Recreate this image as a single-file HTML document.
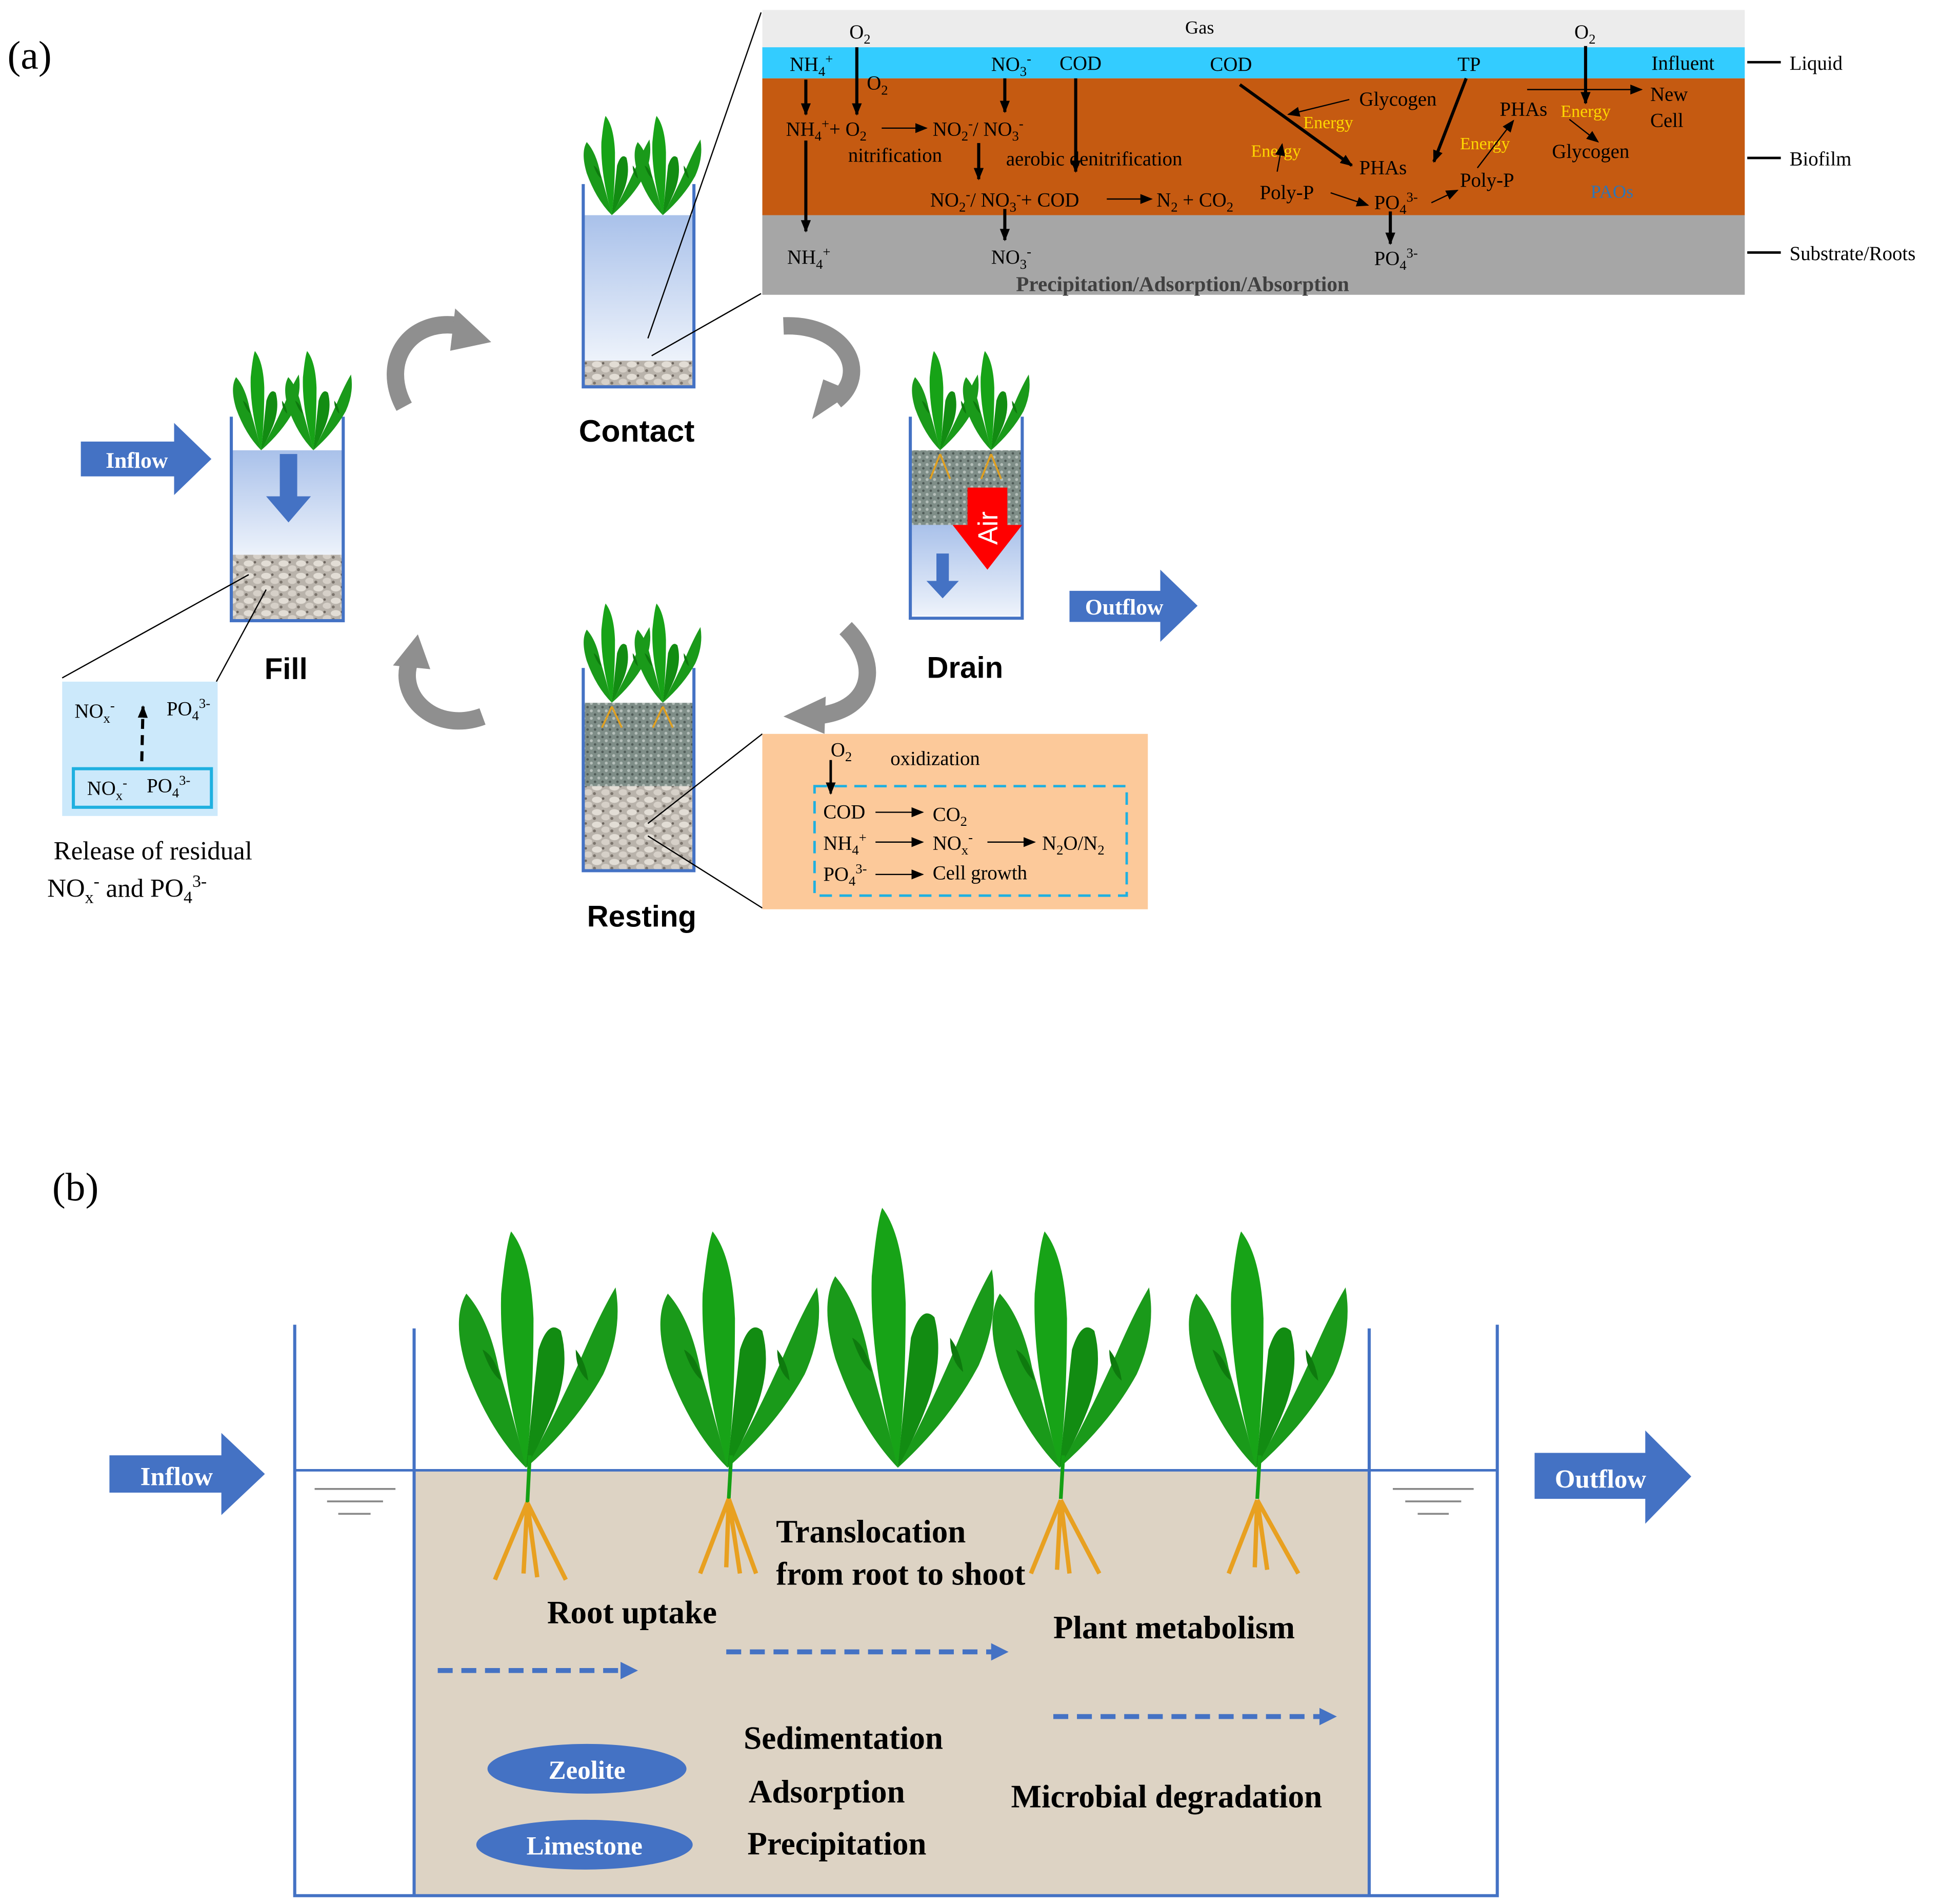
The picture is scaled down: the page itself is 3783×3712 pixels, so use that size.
<!DOCTYPE html>
<html><head><meta charset="utf-8"><style>html,body{margin:0;padding:0;background:#fff}svg{display:block}</style></head>
<body>
<svg xmlns="http://www.w3.org/2000/svg" width="3783" height="3712" viewBox="0 0 1560 1530.7" preserveAspectRatio="none" font-family="Liberation Serif, serif">
<defs>
<linearGradient id="wat" x1="0" y1="0" x2="0" y2="1"><stop offset="0" stop-color="#a9c1ea"/><stop offset="1" stop-color="#eef3fb"/></linearGradient>
<pattern id="grav" width="14" height="10" patternUnits="userSpaceOnUse"><rect width="14" height="10" fill="#b9b3ab"/><ellipse cx="4" cy="3" rx="4" ry="2.5" fill="#e2ddd5"/><ellipse cx="11" cy="7" rx="3.5" ry="2.5" fill="#d6d0c8"/><circle cx="9" cy="2" r="1" fill="#6d665f"/><circle cx="2" cy="8" r="1.2" fill="#7b746c"/></pattern>
<pattern id="dgrav" width="6" height="6" patternUnits="userSpaceOnUse"><rect width="6" height="6" fill="#7f8e88"/><circle cx="1.5" cy="1.5" r="1.2" fill="#b5bfba"/><circle cx="4.5" cy="4.5" r="1" fill="#4f5b57"/></pattern>
<marker id="ahs" markerWidth="10" markerHeight="8" refX="9" refY="4" orient="auto" markerUnits="userSpaceOnUse"><path d="M0,0 L10,4 L0,8 z" fill="#000"/></marker>
<g id="plant">
<path d="M0,0 Q-30,-30 -48,-80 Q-60,-120 -48,-140 Q-30,-120 -22,-80 Q-10,-40 0,0z" fill="#1a9a1a"/>
<path d="M0,0 Q-22,-80 -20,-140 Q-16,-180 -12,-190 Q4,-170 6,-120 Q6,-50 0,0z" fill="#17a317"/>
<path d="M0,0 Q5,-50 10,-95 Q18,-120 28,-110 Q36,-80 22,-45 Q12,-20 0,0z" fill="#128c12"/>
<path d="M0,0 Q25,-45 45,-90 Q60,-125 72,-145 Q78,-110 62,-75 Q40,-35 0,0z" fill="#1a9a1a"/>
<path d="M-35,-95 Q-28,-75 -20,-70 Q-25,-90 -35,-95z" fill="#0e7a0e"/>
<path d="M40,-95 Q48,-85 50,-70 Q40,-78 40,-95z" fill="#0e7a0e"/>
</g>
<g id="cplant"><use href="#plant" transform="scale(0.42)"/></g>
</defs>

<text x="6" y="55" font-size="32">(a)</text>

<rect x="613" y="8" width="790" height="30" fill="#ececec"/>
<rect x="613" y="38" width="790" height="25" fill="#33ccff"/>
<rect x="613" y="63" width="790" height="110" fill="#c55a11"/>
<rect x="613" y="173" width="790" height="64" fill="#a6a6a6"/>
<g stroke="#000" stroke-width="2"><line x1="1405" y1="50" x2="1432" y2="50"/><line x1="1405" y1="127" x2="1432" y2="127"/><line x1="1405" y1="203" x2="1432" y2="203"/></g>
<g font-size="16" fill="#000">
<text x="1439" y="56">Liquid</text><text x="1439" y="133">Biofilm</text><text x="1439" y="209">Substrate/Roots</text>
<text x="953" y="27" font-size="15">Gas</text>
<text x="683" y="31">O<tspan font-size="11" dy="4">2</tspan></text>
<text x="1266" y="31">O<tspan font-size="11" dy="4">2</tspan></text>
<text x="635" y="57">NH<tspan font-size="11" dy="4">4</tspan><tspan font-size="11" dy="-10">+</tspan></text>
<text x="697" y="72">O<tspan font-size="11" dy="4">2</tspan></text>
<text x="797" y="57">NO<tspan font-size="11" dy="4">3</tspan><tspan font-size="11" dy="-10">-</tspan></text>
<text x="852" y="56">COD</text><text x="973" y="57">COD</text><text x="1172" y="57">TP</text><text x="1328" y="56">Influent</text>
<text x="632" y="109">NH<tspan font-size="11" dy="4">4</tspan><tspan font-size="11" dy="-10">+</tspan><tspan dy="6">+ O</tspan><tspan font-size="11" dy="4">2</tspan></text>
<text x="750" y="109">NO<tspan font-size="11" dy="4">2</tspan><tspan font-size="11" dy="-10">-</tspan><tspan dy="6">/ NO</tspan><tspan font-size="11" dy="4">3</tspan><tspan font-size="11" dy="-10">-</tspan></text>
<text x="682" y="130">nitrification</text>
<text x="809" y="133">aerobic denitrification</text>
<text x="748" y="166">NO<tspan font-size="11" dy="4">2</tspan><tspan font-size="11" dy="-10">-</tspan><tspan dy="6">/ NO</tspan><tspan font-size="11" dy="4">3</tspan><tspan font-size="11" dy="-10">-</tspan><tspan dy="6">+ COD</tspan></text>
<text x="930" y="166">N<tspan font-size="11" dy="4">2</tspan><tspan dy="-4"> + CO</tspan><tspan font-size="11" dy="4">2</tspan></text>
<text x="1093" y="85">Glycogen</text>
<text x="1093" y="140">PHAs</text>
<text x="1013" y="160">Poly-P</text>
<text x="1105" y="168">PO<tspan font-size="11" dy="4">4</tspan><tspan font-size="11" dy="-10">3-</tspan></text>
<text x="1174" y="150">Poly-P</text>
<text x="1206" y="93">PHAs</text>
<text x="1327" y="81">New</text><text x="1327" y="102">Cell</text>
<text x="1248" y="127">Glycogen</text>
<text x="1279" y="159" fill="#2e75b6" font-size="15">PAOs</text>
<text x="633" y="212">NH<tspan font-size="11" dy="4">4</tspan><tspan font-size="11" dy="-10">+</tspan></text>
<text x="797" y="212">NO<tspan font-size="11" dy="4">3</tspan><tspan font-size="11" dy="-10">-</tspan></text>
<text x="1105" y="213">PO<tspan font-size="11" dy="4">4</tspan><tspan font-size="11" dy="-10">3-</tspan></text>
<text x="817" y="234" font-weight="bold" fill="#404040" font-size="17">Precipitation/Adsorption/Absorption</text>
</g>
<g font-size="14" fill="#ffd700">
<text x="1048" y="103">Energy</text><text x="1006" y="126">Energy</text><text x="1174" y="120">Energy</text><text x="1255" y="94">Energy</text>
</g>
<g stroke="#000" stroke-width="2.5" marker-end="url(#ahs)" fill="none">
<line x1="648" y1="64" x2="648" y2="92"/><line x1="689" y1="38" x2="689" y2="92"/><line x1="808" y1="63" x2="808" y2="90"/>
<line x1="865" y1="63" x2="865" y2="138"/><line x1="787" y1="115" x2="787" y2="144"/>
<line x1="648" y1="113" x2="648" y2="186"/><line x1="808" y1="168" x2="808" y2="193"/>
<line x1="1118" y1="170" x2="1118" y2="196"/>
<line x1="997" y1="68" x2="1087" y2="133"/><line x1="1179" y1="63" x2="1153" y2="130"/>
<line x1="1275" y1="37" x2="1275" y2="83"/>
</g>
<g stroke="#000" stroke-width="1" marker-end="url(#ahs)" fill="none">
<line x1="709" y1="103" x2="745" y2="103"/><line x1="890" y1="160" x2="926" y2="160"/>
<line x1="1085" y1="80" x2="1036" y2="92"/><line x1="1027" y1="138" x2="1031" y2="116"/>
<line x1="1070" y1="155" x2="1100" y2="165"/><line x1="1151" y1="163" x2="1172" y2="153"/>
<line x1="1188" y1="135" x2="1217" y2="97"/><line x1="1262" y1="96" x2="1285" y2="114"/>
<line x1="1228" y1="72" x2="1320" y2="72"/>
</g>

<!-- Contact -->
<rect x="470" y="173" width="87" height="118" fill="url(#wat)"/>
<rect x="470" y="290" width="87" height="20" fill="url(#grav)"/>
<path d="M469,148 V311 H558 V148" fill="none" stroke="#4472c4" stroke-width="2.5"/>
<use href="#cplant" transform="translate(492,173)"/><use href="#cplant" transform="translate(533,173)"/>
<line x1="521" y1="272" x2="612" y2="10" stroke="#000" stroke-width="1"/>
<line x1="524" y1="286" x2="612" y2="236" stroke="#000" stroke-width="1"/>
<text x="512" y="355" font-family="Liberation Sans, sans-serif" font-weight="bold" font-size="25" text-anchor="middle">Contact</text>

<!-- Fill -->
<rect x="187" y="362" width="88" height="85" fill="url(#wat)"/>
<rect x="187" y="446" width="88" height="52" fill="url(#grav)"/>
<path d="M186,335 V499 H276 V335" fill="none" stroke="#4472c4" stroke-width="2.5"/>
<use href="#cplant" transform="translate(210,362)"/><use href="#cplant" transform="translate(252,362)"/>
<path d="M225,365 H239 V399 H250 L232,420 L214,399 H225z" fill="#4472c4"/>
<text x="230" y="546" font-family="Liberation Sans, sans-serif" font-weight="bold" font-size="24" text-anchor="middle">Fill</text>
<path d="M65,355 H140 V340 L170,369 L140,398 V383 H65z" fill="#4472c4"/>
<text x="110" y="376" font-weight="bold" font-size="18" fill="#fff" text-anchor="middle">Inflow</text>
<line x1="50" y1="545" x2="200" y2="462" stroke="#000" stroke-width="1"/>
<line x1="174" y1="548" x2="214" y2="474" stroke="#000" stroke-width="1"/>
<rect x="50" y="548" width="125" height="108" fill="#cce9fb"/>
<rect x="59" y="618" width="111" height="31" fill="none" stroke="#1fb0e0" stroke-width="2.5"/>
<g font-size="16"><text x="60" y="577">NO<tspan font-size="11" dy="4">x</tspan><tspan font-size="11" dy="-10">-</tspan></text>
<text x="134" y="575">PO<tspan font-size="11" dy="4">4</tspan><tspan font-size="11" dy="-10">3-</tspan></text>
<text x="70" y="639">NO<tspan font-size="11" dy="4">x</tspan><tspan font-size="11" dy="-10">-</tspan></text>
<text x="118" y="637">PO<tspan font-size="11" dy="4">4</tspan><tspan font-size="11" dy="-10">3-</tspan></text></g>
<line x1="114" y1="612" x2="115" y2="568" stroke="#000" stroke-width="2.5" stroke-dasharray="8,5" marker-end="url(#ahs)"/>
<text x="123" y="691" font-size="21" text-anchor="middle">Release of residual</text>
<text x="38" y="721" font-size="21">NO<tspan font-size="14" dy="5">x</tspan><tspan font-size="14" dy="-13">-</tspan><tspan dy="8"> and PO</tspan><tspan font-size="14" dy="5">4</tspan><tspan font-size="14" dy="-13">3-</tspan></text>

<!-- Drain -->
<rect x="733" y="362" width="88" height="61" fill="url(#dgrav)"/>
<rect x="733" y="422" width="88" height="73" fill="url(#wat)"/>
<path d="M732,335 V497 H822 V335" fill="none" stroke="#4472c4" stroke-width="2.5"/>
<use href="#cplant" transform="translate(756,362)"/><use href="#cplant" transform="translate(797,362)"/>
<g stroke="#e0a020" stroke-width="1.5" fill="none"><path d="M756,365 L748,385 M756,365 L764,385 M797,365 L789,385 M797,365 L805,385"/></g>
<path d="M778,392 H810 V422 H822 L794,458 L766,422 H778z" fill="#ff0000"/>
<text x="0" y="0" font-family="Liberation Sans, sans-serif" font-size="22" fill="#fff" transform="translate(802,438) rotate(-90)">Air</text>
<path d="M753,445 H763 V467 H771 L758,481 L745,467 H753z" fill="#4472c4"/>
<text x="776" y="545" font-family="Liberation Sans, sans-serif" font-weight="bold" font-size="24" text-anchor="middle">Drain</text>
<path d="M860,475 H933 V458 L963,487 L933,516 V500 H860z" fill="#4472c4"/>
<text x="904" y="494" font-weight="bold" font-size="18" fill="#fff" text-anchor="middle">Outflow</text>

<!-- Resting -->
<rect x="470" y="565" width="87" height="68" fill="url(#dgrav)"/>
<rect x="470" y="632" width="87" height="67" fill="url(#grav)"/>
<path d="M469,537 V700 H558 V537" fill="none" stroke="#4472c4" stroke-width="2.5"/>
<use href="#cplant" transform="translate(492,565)"/><use href="#cplant" transform="translate(533,565)"/>
<g stroke="#e0a020" stroke-width="1.5" fill="none"><path d="M492,568 L484,585 M492,568 L500,585 M533,568 L525,585 M533,568 L541,585"/></g>
<text x="516" y="745" font-family="Liberation Sans, sans-serif" font-weight="bold" font-size="24" text-anchor="middle">Resting</text>
<line x1="521" y1="662" x2="613" y2="590" stroke="#000" stroke-width="1"/>
<line x1="521" y1="672" x2="613" y2="730" stroke="#000" stroke-width="1"/>
<rect x="613" y="590" width="310" height="141" fill="#fcc99a"/>
<rect x="655" y="632" width="251" height="88" fill="none" stroke="#1fb0e0" stroke-width="2" stroke-dasharray="10,6"/>
<g font-size="16">
<text x="668" y="608">O<tspan font-size="11" dy="4">2</tspan></text><text x="716" y="615">oxidization</text>
<text x="662" y="658">COD</text><text x="750" y="660">CO<tspan font-size="11" dy="4">2</tspan></text>
<text x="662" y="683">NH<tspan font-size="11" dy="4">4</tspan><tspan font-size="11" dy="-10">+</tspan></text>
<text x="750" y="683">NO<tspan font-size="11" dy="4">x</tspan><tspan font-size="11" dy="-10">-</tspan></text>
<text x="838" y="683">N<tspan font-size="11" dy="4">2</tspan><tspan dy="-4">O/N</tspan><tspan font-size="11" dy="4">2</tspan></text>
<text x="662" y="708">PO<tspan font-size="11" dy="4">4</tspan><tspan font-size="11" dy="-10">3-</tspan></text>
<text x="750" y="707">Cell growth</text>
</g>
<g stroke="#000" stroke-width="1" marker-end="url(#ahs)"><line x1="704" y1="653" x2="742" y2="653"/><line x1="704" y1="677" x2="742" y2="677"/><line x1="794" y1="677" x2="832" y2="677"/><line x1="704" y1="703" x2="742" y2="703"/></g>
<line x1="668" y1="611" x2="668" y2="638" stroke="#000" stroke-width="2" marker-end="url(#ahs)"/>

<g fill="none" stroke="#8f8f8f" stroke-width="14">
<path d="M325,327 C305,290 330,255 370,262"/>
<path d="M630,262 C680,260 700,300 672,322"/>
<path d="M680,505 C710,535 700,570 660,575"/>
<path d="M388,576 C350,590 318,560 330,530"/>
</g>
<g fill="#8f8f8f">
<polygon points="366,248 395,275 362,282"/>
<polygon points="686,315 653,337 662,305"/>
<polygon points="664,560 630,576 663,590"/>
<polygon points="316,535 336,510 346,538"/>
</g>

<!-- (b) -->
<text x="42" y="965" font-size="32">(b)</text>
<rect x="334" y="1182" width="767" height="341" fill="#ddd3c4"/>
<g stroke="#4472c4" stroke-width="2.5" fill="none">
<path d="M237,1065 V1524 H1204 V1065"/>
<line x1="333" y1="1068" x2="333" y2="1524"/><line x1="1101" y1="1068" x2="1101" y2="1524"/>
<line x1="237" y1="1182" x2="1204" y2="1182" stroke-width="2"/>
</g>
<g stroke="#888" stroke-width="1.5"><line x1="253" y1="1197" x2="318" y2="1197"/><line x1="263" y1="1207" x2="308" y2="1207"/><line x1="272" y1="1217" x2="298" y2="1217"/>
<line x1="1120" y1="1197" x2="1185" y2="1197"/><line x1="1130" y1="1207" x2="1175" y2="1207"/><line x1="1140" y1="1217" x2="1165" y2="1217"/></g>
<use href="#plant" transform="translate(423,1180)"/>
<use href="#plant" transform="translate(585,1180)"/>
<use href="#plant" transform="translate(722,1180) scale(1.05,1.1)"/>
<use href="#plant" transform="translate(852,1180)"/>
<use href="#plant" transform="translate(1010,1180)"/>
<g stroke="#14a014" stroke-width="3"><line x1="426" y1="1170" x2="424" y2="1210"/><line x1="588" y1="1170" x2="586" y2="1205"/><line x1="855" y1="1170" x2="853" y2="1205"/><line x1="1013" y1="1170" x2="1011" y2="1205"/></g>
<g stroke="#e8a020" stroke-width="3.5" fill="none">
<path d="M424,1208 L398,1270 M424,1208 L421,1265 M424,1208 L432,1268 M424,1208 L455,1270"/>
<path d="M586,1205 L563,1265 M586,1205 L584,1260 M586,1205 L595,1265 M586,1205 L608,1265"/>
<path d="M853,1206 L829,1265 M853,1206 L850,1262 M853,1206 L860,1265 M853,1206 L884,1265"/>
<path d="M1011,1206 L988,1265 M1011,1206 L1009,1260 M1011,1206 L1019,1262 M1011,1206 L1044,1265"/>
</g>
<path d="M88,1170 H178 V1152 L213,1185 L178,1218 V1200 H88z" fill="#4472c4"/>
<text x="142" y="1194" font-weight="bold" font-size="21" fill="#fff" text-anchor="middle">Inflow</text>
<path d="M1234,1168 H1323 V1150 L1360,1187 L1323,1225 V1205 H1234z" fill="#4472c4"/>
<text x="1287" y="1196" font-weight="bold" font-size="21" fill="#fff" text-anchor="middle">Outflow</text>
<g font-weight="bold" font-size="26" fill="#000">
<text x="624" y="1240">Translocation</text>
<text x="624" y="1274">from root to shoot</text>
<text x="440" y="1305">Root uptake</text>
<text x="847" y="1317">Plant metabolism</text>
<text x="598" y="1406">Sedimentation</text>
<text x="602" y="1449">Adsorption</text>
<text x="813" y="1453">Microbial degradation</text>
<text x="601" y="1491">Precipitation</text>
</g>
<g stroke="#4472c4" stroke-width="4" stroke-dasharray="12,7" fill="none"><line x1="352" y1="1343" x2="500" y2="1343"/><line x1="584" y1="1328" x2="798" y2="1328"/><line x1="847" y1="1380" x2="1062" y2="1380"/></g>
<g fill="#4472c4"><polygon points="499,1336 513,1343 499,1350"/><polygon points="797,1321 811,1328 797,1335"/><polygon points="1061,1373 1075,1380 1061,1387"/></g>
<ellipse cx="472" cy="1422" rx="80" ry="20" fill="#4472c4"/>
<ellipse cx="470" cy="1483" rx="87" ry="20" fill="#4472c4"/>
<text x="472" y="1430" font-weight="bold" font-size="21" fill="#fff" text-anchor="middle">Zeolite</text>
<text x="470" y="1491" font-weight="bold" font-size="21" fill="#fff" text-anchor="middle">Limestone</text>
</svg>
</body></html>
